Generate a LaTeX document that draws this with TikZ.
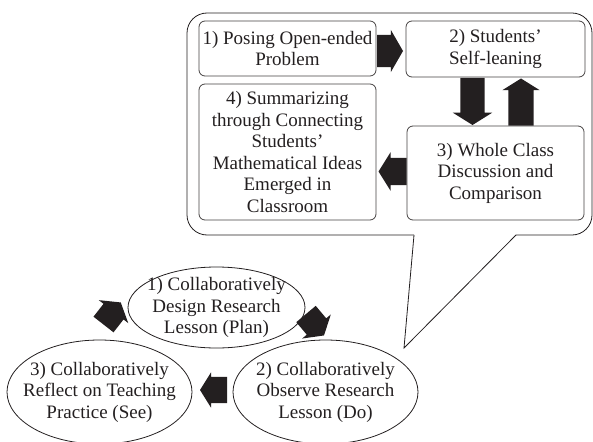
\documentclass[tikz,border=0pt]{standalone}
\usepackage{fontspec}
\setmainfont{Liberation Serif}
\usetikzlibrary{shapes.geometric,shapes.arrows}
\definecolor{ink}{HTML}{231F20}
\tikzset{
  txt/.style={font=\fontsize{19}{21.5}\selectfont, align=center, text=ink, inner sep=0pt},
  boxnode/.style={txt, draw=ink!85, line width=0.8pt, rounded corners=6pt, minimum width=#1, outer sep=0pt},
  ellnode/.style={ellipse, draw=ink, line width=0.8pt, inner sep=0pt, outer sep=0pt},
  blk/.style={single arrow, fill=ink, draw=none, inner xsep=0pt, outer sep=0pt, anchor=tail, single arrow tip angle=116},
  callout/.style={draw=ink, line width=0.8pt}
}
\begin{document}
\begin{tikzpicture}[x=1pt,y=-1pt]
\useasboundingbox (0,0) rectangle (593,441);
% callout balloon
\draw[callout, rounded corners=20pt] (516,235) -- (592,235) -- (592,13) -- (187,13) -- (187,235) -- (414,235);
\draw[callout, line join=miter] (414,235) coordinate (ct1) -- (404,348) coordinate (ctip) -- (516,235) coordinate (ct2);
% boxes
\node[boxnode=177pt, minimum height=55pt] (p1) at (287.5,48.5) {1) Posing Open-ended\\Problem};
\node[boxnode=179pt, minimum height=56pt] (p2) at (495.5,49) {2) Students’\\Self-leaning};
\node[boxnode=177pt, minimum height=94pt] (p3) at (495.5,173) {3) Whole Class\\Discussion and\\Comparison};
\node[boxnode=177pt, minimum height=136pt] (p4) at (287.5,152) {4) Summarizing\\through Connecting\\Students’\\Mathematical Ideas\\Emerged in\\Classroom};
% box arrows
\node[blk, minimum height=26pt, inner ysep=16pt, single arrow head extend=5pt, single arrow tip angle=120, rotate=0] (a12) at (377,51) {};
\node[blk, minimum height=47pt, inner ysep=12pt, single arrow head extend=7.5pt, rotate=-90] (a23) at (472.5,78) {};
\node[blk, minimum height=47pt, inner ysep=12.5pt, single arrow head extend=6pt, rotate=90] (a32) at (521,125.5) {};
\node[blk, minimum height=28pt, inner ysep=13.5pt, single arrow head extend=5.5pt, rotate=180] (a34) at (406.5,171.5) {};
% ellipses
\node[ellnode, minimum width=177pt, minimum height=81pt] (e1) at (216.5,307.5) {};
\node[txt] (t1) at (e1.center) {1) Collaboratively\\Design Research\\Lesson (Plan)};
\node[ellnode, minimum width=185pt, minimum height=104pt] (e2) at (325.5,392) {};
\node[txt] (t2) at (e2.center) {2) Collaboratively\\Observe Research\\Lesson (Do)};
\node[ellnode, minimum width=185pt, minimum height=104pt] (e3) at (99.5,392) {};
\node[txt] (t3) at (e3.center) {3) Collaboratively\\Reflect on Teaching\\Practice (See)};
% cycle arrows
\node[blk, minimum height=28pt, inner ysep=12.5pt, single arrow head extend=6pt, rotate=-50] (b12) at (306,314) {};
\node[blk, minimum height=27pt, inner ysep=13pt, single arrow head extend=4.5pt, rotate=180] (b23) at (227,390) {};
\node[blk, minimum height=28pt, inner ysep=12.5pt, single arrow head extend=6pt, rotate=52] (b31) at (103.5,324.5) {};
\end{tikzpicture}
\end{document}
